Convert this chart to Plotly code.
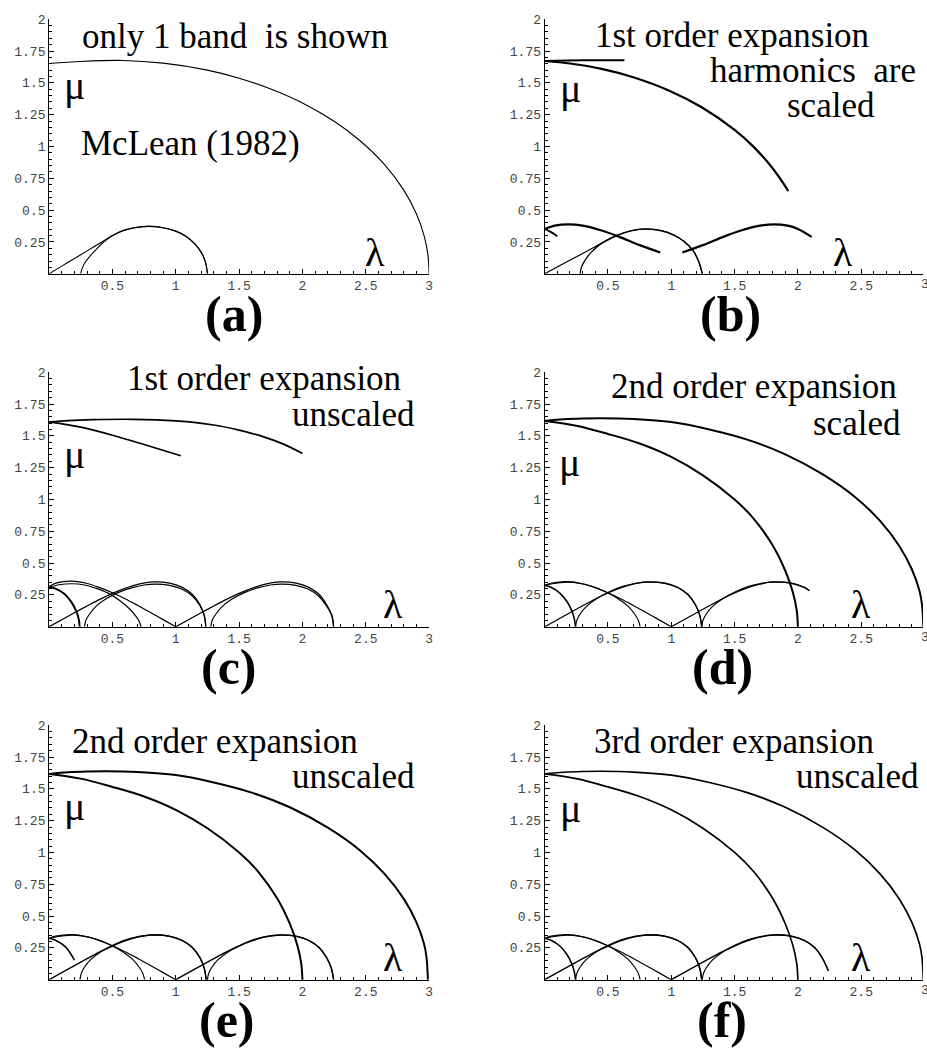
import plotly.graph_objects as go

W, H = 927, 1055

# ---------------- tick labels ----------------
X_TICKS = [0.5, 1, 1.5, 2, 2.5, 3]
X_TICK_TEXT = ["0.5", "1", "1.5", "2", "2.5", "3"]
Y_TICKS = [0.25, 0.5, 0.75, 1, 1.25, 1.5, 1.75, 2]
Y_TICK_TEXT = ["0.25", "0.5", "0.75", "1", "1.25", "1.5", "1.75", "2"]

# ---------------- panel (a) ----------------
A_TOP_X = [0, 0.25, 0.58, 0.9, 1.24, 1.5, 1.76, 2.0, 2.25, 2.45, 2.65, 2.8, 2.9, 2.96, 2.99, 3.0]
A_TOP_Y = [1.652, 1.668, 1.676, 1.655, 1.602, 1.537, 1.448, 1.342, 1.198, 1.049, 0.856, 0.657, 0.47, 0.30, 0.15, 0.0]
A_LINE_X = [0, 0.1, 0.2, 0.3, 0.4, 0.5, 0.58, 0.68, 0.79, 0.9, 1.0, 1.08, 1.15, 1.2, 1.235, 1.25]
A_LINE_Y = [0, 0.06, 0.12, 0.18, 0.24, 0.3, 0.338, 0.362, 0.372, 0.362, 0.335, 0.295, 0.235, 0.17, 0.09, 0]
A_ARC_X = [0.25, 0.26, 0.285, 0.32, 0.38, 0.45, 0.52, 0.6, 0.68, 0.79, 0.9, 1.0, 1.08, 1.15, 1.2, 1.235, 1.25]
A_ARC_Y = [0, 0.04, 0.09, 0.135, 0.2, 0.265, 0.31, 0.345, 0.364, 0.372, 0.362, 0.335, 0.295, 0.235, 0.17, 0.09, 0]

# ---------------- panel (b) ----------------
B_FLAT_X = [0, 0.3, 0.63]
B_FLAT_Y = [1.672, 1.678, 1.678]
B_ARC_X = [0, 0.2, 0.45, 0.7, 0.98, 1.24, 1.5, 1.65, 1.77, 1.85, 1.924]
B_ARC_Y = [1.672, 1.652, 1.61, 1.544, 1.44, 1.308, 1.13, 0.997, 0.866, 0.761, 0.65]
B_LTOP_X = [0, 0.08, 0.19, 0.3, 0.45, 0.585, 0.75, 0.913]
B_LTOP_Y = [0.352, 0.378, 0.388, 0.378, 0.34, 0.292, 0.225, 0.167]
B_LSHORT_X = [0, 0.05, 0.1]
B_LSHORT_Y = [0.352, 0.327, 0.295]
B_MLINE_X = [0, 0.15, 0.3, 0.45, 0.574, 0.68, 0.8, 0.92, 1.02, 1.1, 1.17, 1.215, 1.245]
B_MLINE_Y = [0, 0.08, 0.16, 0.24, 0.302, 0.338, 0.352, 0.34, 0.305, 0.255, 0.185, 0.1, 0]
B_MARC_X = [0.28, 0.29, 0.315, 0.36, 0.43, 0.52, 0.62, 0.72, 0.8, 0.92, 1.02, 1.1, 1.17, 1.215, 1.245]
B_MARC_Y = [0, 0.05, 0.1, 0.16, 0.225, 0.28, 0.32, 0.345, 0.35, 0.338, 0.303, 0.253, 0.183, 0.1, 0]
B_NTOP_X = [1.087, 1.25, 1.415, 1.55, 1.7, 1.81, 1.92, 2.0, 2.108]
B_NTOP_Y = [0.167, 0.225, 0.292, 0.34, 0.378, 0.388, 0.378, 0.352, 0.29]

# ---------------- panel (c) ----------------
C_TOP1_X = [0, 0.15, 0.35, 0.66, 1.0, 1.3, 1.5, 1.7, 1.85, 2.0]
C_TOP1_Y = [1.609, 1.62, 1.627, 1.63, 1.617, 1.585, 1.545, 1.49, 1.435, 1.362]
C_TOP2_X = [0, 0.25, 0.5, 0.75, 1.04]
C_TOP2_Y = [1.609, 1.568, 1.505, 1.432, 1.344]
C_LSHORT_X = [0, 0.05, 0.12, 0.175, 0.215, 0.235, 0.241]
C_LSHORT_Y = [0.315, 0.3, 0.26, 0.195, 0.12, 0.055, 0]
C_LLINE_X = [0, 0.06, 0.18, 0.3, 0.4, 0.5, 0.6, 0.7, 0.8, 0.9, 1.0]
C_LLINE_Y = [0.315, 0.345, 0.358, 0.34, 0.307, 0.267, 0.22, 0.167, 0.112, 0.056, 0]
C_LARC_X = [0, 0.08, 0.18, 0.28, 0.38, 0.47, 0.56, 0.63, 0.68, 0.71, 0.726]
C_LARC_Y = [0.31, 0.33, 0.338, 0.328, 0.3, 0.262, 0.205, 0.145, 0.09, 0.045, 0]
C_MLINE_X = [0, 0.1, 0.2, 0.3, 0.4, 0.5, 0.6, 0.7, 0.82, 0.95, 1.05, 1.13, 1.19, 1.225, 1.237]
C_MLINE_Y = [0, 0.055, 0.11, 0.163, 0.215, 0.262, 0.302, 0.333, 0.352, 0.343, 0.31, 0.255, 0.175, 0.09, 0]
C_MARC_X = [0.28, 0.29, 0.32, 0.37, 0.45, 0.55, 0.65, 0.75, 0.84, 0.95, 1.05, 1.13, 1.19, 1.225, 1.237]
C_MARC_Y = [0, 0.05, 0.1, 0.16, 0.22, 0.27, 0.305, 0.328, 0.335, 0.325, 0.295, 0.242, 0.167, 0.085, 0]
C_NLINE_X = [1.0, 1.1, 1.2, 1.3, 1.4, 1.5, 1.6, 1.7, 1.82, 1.95, 2.05, 2.13, 2.19, 2.232, 2.246]
C_NLINE_Y = [0, 0.055, 0.11, 0.163, 0.215, 0.262, 0.302, 0.333, 0.352, 0.343, 0.31, 0.255, 0.175, 0.09, 0]
C_NARC_X = [1.277, 1.287, 1.317, 1.367, 1.447, 1.547, 1.647, 1.747, 1.837, 1.947, 2.047, 2.127, 2.187, 2.232, 2.246]
C_NARC_Y = [0, 0.05, 0.1, 0.16, 0.22, 0.27, 0.305, 0.328, 0.335, 0.325, 0.295, 0.242, 0.167, 0.085, 0]

# ---------------- panels (d), (e), (f) ----------------
D_TOP1_X = [0, 0.15, 0.3, 0.45, 0.7, 1.0, 1.3, 1.6, 1.9, 2.2, 2.45, 2.65, 2.8, 2.9, 2.96, 2.98, 2.99]
D_TOP1_Y = [1.617, 1.63, 1.636, 1.638, 1.632, 1.608, 1.55, 1.47, 1.355, 1.195, 1.02, 0.83, 0.635, 0.45, 0.28, 0.17, 0]
D_TOP2_X = [0, 0.25, 0.5, 0.75, 1.0, 1.25, 1.5, 1.65, 1.8, 1.9, 1.96, 1.99, 2.0]
D_TOP2_Y = [1.617, 1.58, 1.515, 1.44, 1.335, 1.19, 1.0, 0.85, 0.64, 0.44, 0.27, 0.13, 0]
D_LSHORT_X = [0, 0.05, 0.12, 0.175, 0.215, 0.235, 0.244]
D_LSHORT_Y = [0.326, 0.31, 0.265, 0.2, 0.125, 0.06, 0]
D_LLINE_X = [0, 0.05, 0.18, 0.3, 0.4, 0.5, 0.6, 0.7, 0.8, 0.9, 1.0]
D_LLINE_Y = [0.326, 0.342, 0.354, 0.338, 0.307, 0.267, 0.22, 0.167, 0.112, 0.056, 0]
D_LARC_X = [0, 0.06, 0.18, 0.28, 0.38, 0.48, 0.58, 0.66, 0.71, 0.74, 0.754]
D_LARC_Y = [0.322, 0.338, 0.35, 0.34, 0.315, 0.275, 0.22, 0.16, 0.1, 0.05, 0]
D_MLINE_X = [0, 0.1, 0.2, 0.3, 0.4, 0.5, 0.6, 0.7, 0.8, 0.95, 1.05, 1.13, 1.19, 1.225, 1.24]
D_MLINE_Y = [0, 0.055, 0.11, 0.165, 0.218, 0.265, 0.305, 0.335, 0.352, 0.343, 0.31, 0.255, 0.175, 0.09, 0]
D_MARC_X = [0.244, 0.254, 0.28, 0.33, 0.41, 0.51, 0.61, 0.71, 0.8, 0.95, 1.05, 1.13, 1.19, 1.225, 1.24]
D_MARC_Y = [0, 0.05, 0.1, 0.16, 0.22, 0.275, 0.315, 0.34, 0.35, 0.341, 0.308, 0.253, 0.173, 0.088, 0]
D_NLINE_X = [1.0, 1.1, 1.2, 1.3, 1.4, 1.5, 1.6, 1.7, 1.8, 1.95, 2.05, 2.09]
D_NLINE_Y = [0, 0.055, 0.11, 0.165, 0.218, 0.265, 0.305, 0.335, 0.352, 0.343, 0.31, 0.285]
D_NARC_X = [1.24, 1.25, 1.276, 1.326, 1.406, 1.506, 1.606, 1.706, 1.8, 1.95, 2.05, 2.09]
D_NARC_Y = [0, 0.05, 0.1, 0.16, 0.22, 0.275, 0.315, 0.34, 0.35, 0.341, 0.308, 0.283]

E_LSHORT_X = [0, 0.05, 0.13, 0.2]
E_LSHORT_Y = [0.326, 0.31, 0.258, 0.155]
E_NLINE_X = [1.0, 1.1, 1.2, 1.3, 1.4, 1.5, 1.6, 1.7, 1.82, 1.95, 2.05, 2.13, 2.19, 2.228, 2.246]
E_NLINE_Y = [0, 0.055, 0.11, 0.165, 0.218, 0.265, 0.305, 0.335, 0.352, 0.343, 0.31, 0.255, 0.175, 0.09, 0]
E_NARC_X = [1.25, 1.26, 1.286, 1.336, 1.416, 1.516, 1.616, 1.716, 1.82, 1.95, 2.05, 2.13, 2.19, 2.228, 2.246]
E_NARC_Y = [0, 0.05, 0.1, 0.16, 0.22, 0.275, 0.315, 0.34, 0.35, 0.341, 0.308, 0.253, 0.173, 0.088, 0]

F_NLINE_X = [1.0, 1.1, 1.2, 1.3, 1.4, 1.5, 1.6, 1.7, 1.8, 1.95, 2.05, 2.13, 2.19, 2.24]
F_NLINE_Y = [0, 0.055, 0.11, 0.165, 0.218, 0.265, 0.305, 0.335, 0.352, 0.343, 0.31, 0.255, 0.175, 0.07]
F_NARC_X = [1.244, 1.254, 1.28, 1.33, 1.41, 1.51, 1.61, 1.71, 1.8, 1.95, 2.05, 2.13, 2.19, 2.24]
F_NARC_Y = [0, 0.05, 0.1, 0.16, 0.22, 0.275, 0.315, 0.34, 0.35, 0.341, 0.308, 0.253, 0.173, 0.07]

# curves per panel: (x, y, line width)
PANEL_CURVES = {
    1: [(A_TOP_X, A_TOP_Y, 1.1), (A_LINE_X, A_LINE_Y, 1.1), (A_ARC_X, A_ARC_Y, 1.1)],
    2: [(B_FLAT_X, B_FLAT_Y, 2.0), (B_ARC_X, B_ARC_Y, 2.2), (B_LTOP_X, B_LTOP_Y, 2.2),
        (B_LSHORT_X, B_LSHORT_Y, 1.8), (B_MLINE_X, B_MLINE_Y, 1.2), (B_MARC_X, B_MARC_Y, 1.3),
        (B_NTOP_X, B_NTOP_Y, 2.2)],
    3: [(C_TOP1_X, C_TOP1_Y, 1.7), (C_TOP2_X, C_TOP2_Y, 1.7), (C_LSHORT_X, C_LSHORT_Y, 2.0),
        (C_LLINE_X, C_LLINE_Y, 1.2), (C_LARC_X, C_LARC_Y, 1.2), (C_MLINE_X, C_MLINE_Y, 1.3),
        (C_MARC_X, C_MARC_Y, 1.2), (C_NLINE_X, C_NLINE_Y, 1.3), (C_NARC_X, C_NARC_Y, 1.2)],
    4: [(D_TOP1_X, D_TOP1_Y, 2.0), (D_TOP2_X, D_TOP2_Y, 2.0), (D_LSHORT_X, D_LSHORT_Y, 1.6),
        (D_LLINE_X, D_LLINE_Y, 1.2), (D_LARC_X, D_LARC_Y, 1.2), (D_MLINE_X, D_MLINE_Y, 1.3),
        (D_MARC_X, D_MARC_Y, 1.2), (D_NLINE_X, D_NLINE_Y, 1.3), (D_NARC_X, D_NARC_Y, 1.2)],
    5: [(D_TOP1_X, D_TOP1_Y, 2.0), (D_TOP2_X, D_TOP2_Y, 2.0), (E_LSHORT_X, E_LSHORT_Y, 1.5),
        (D_LLINE_X, D_LLINE_Y, 1.2), (D_LARC_X, D_LARC_Y, 1.2), (D_MLINE_X, D_MLINE_Y, 1.4),
        (D_MARC_X, D_MARC_Y, 1.2), (E_NLINE_X, E_NLINE_Y, 1.4), (E_NARC_X, E_NARC_Y, 1.2)],
    6: [(D_TOP1_X, D_TOP1_Y, 1.7), (D_TOP2_X, D_TOP2_Y, 1.7), (D_LSHORT_X, D_LSHORT_Y, 1.6),
        (D_LLINE_X, D_LLINE_Y, 1.2), (D_LARC_X, D_LARC_Y, 1.2), (D_MLINE_X, D_MLINE_Y, 1.4),
        (D_MARC_X, D_MARC_Y, 1.2), (F_NLINE_X, F_NLINE_Y, 1.4), (F_NARC_X, F_NARC_Y, 1.2)],
}

# text labels (pixel positions of the text centres)
PANEL_TEXTS = [
    ("only 1 band  is shown", 236, 31), ("McLean (1982)", 191, 138),
    ("1st order expansion", 735, 30), ("harmonics  are", 817, 65), ("scaled", 835, 100),
    ("1st order expansion", 265, 375), ("unscaled", 355, 411),
    ("2nd order expansion", 757, 383), ("scaled", 861, 420),
    ("2nd order expansion", 216, 740), ("unscaled", 355, 775),
    ("3rd order expansion", 737, 740), ("unscaled", 861, 775),
]
MU_POS = [(75, 80), (573, 83), (75, 451), (572, 459), (75, 805), (573, 807)]
LAMBDA_POS = [(377, 248), (847, 248), (395, 602), (865, 602), (395, 957), (865, 957)]
PANEL_LABELS = ["(a)", "(b)", "(c)", "(d)", "(e)", "(f)"]
LABEL_POS = [(235, 310), (734, 310), (230, 665), (726, 665), (228, 1020), (725, 1020)]

# layout geometry (pixels)
COL_X = [(49.3, 431.0, 3.0), (547.0, 927.0, 2.9874)]   # left px, right px, x max shown
ROW_Y = [(13.3, 269.3), (368.3, 624.3), (723.3, 979.3)]  # top px, bottom px

SERIF = "Liberation Serif, Times New Roman, serif"
MONO = "Liberation Mono, Courier New, monospace"

fig = go.Figure()
layout = dict(width=W, height=H, autosize=False,
              margin=dict(l=0, r=0, t=0, b=0),
              paper_bgcolor="white", plot_bgcolor="white",
              showlegend=False, annotations=[])

for i in range(1, 7):
    r = (i - 1) // 2
    c = (i - 1) % 2
    xl, xr, xmax = COL_X[c]
    yt, yb = ROW_Y[r]
    suffix = "" if i == 1 else str(i)
    tick_font = dict(family=MONO, size=13, color="#444")
    layout["xaxis" + suffix] = dict(
        domain=[xl / W, xr / W], range=[0, xmax], anchor="y" + suffix,
        showline=True, linecolor="black", linewidth=1, mirror=False,
        showgrid=False, zeroline=False,
        tickmode="array", tickvals=X_TICKS, ticktext=X_TICK_TEXT,
        ticks="inside", ticklen=5, tickwidth=1, tickcolor="black",
        tickfont=tick_font,
        minor=dict(ticks="inside", ticklen=3, tickwidth=1, tickcolor="black",
                   tickmode="linear", tick0=0, dtick=0.1, showgrid=False),
        fixedrange=True,
    )
    layout["yaxis" + suffix] = dict(
        domain=[1 - yb / H, 1 - yt / H], range=[0, 2], anchor="x" + suffix,
        showline=True, linecolor="black", linewidth=1, mirror=False,
        showgrid=False, zeroline=False,
        tickmode="array", tickvals=Y_TICKS, ticktext=Y_TICK_TEXT,
        ticks="inside", ticklen=5, tickwidth=1, tickcolor="black",
        tickfont=tick_font,
        minor=dict(ticks="inside", ticklen=3, tickwidth=1, tickcolor="black",
                   tickmode="linear", tick0=0, dtick=0.05, showgrid=False),
        fixedrange=True,
    )
    for (xs, ys, w) in PANEL_CURVES[i]:
        fig.add_trace(go.Scatter(
            x=xs, y=ys, mode="lines",
            line=dict(color="black", width=w, shape="spline", smoothing=0.9),
            xaxis="x" + suffix, yaxis="y" + suffix,
            hoverinfo="skip", showlegend=False))


def ann(text, px, py, size, family=SERIF, bold=False, color="black"):
    t = "<b>" + text + "</b>" if bold else text
    layout["annotations"].append(dict(
        text=t, x=px / W, y=1 - py / H, xref="paper", yref="paper",
        xanchor="center", yanchor="middle", showarrow=False,
        font=dict(family=family, size=size, color=color)))


for text, px, py in PANEL_TEXTS:
    ann(text, px, py, 35)
for (px, py) in MU_POS:
    ann("μ", px, py, 40)
for (px, py) in LAMBDA_POS:
    ann("λ", px, py, 40)
for lab, (px, py) in zip(PANEL_LABELS, LABEL_POS):
    ann(lab, px, py, 50, bold=True)
# tick label "3" of the right column, cut by the page edge
for (yt, yb) in ROW_Y:
    ann("3", 929, yb + 11, 13, family=MONO, color="#444")

fig.update_layout(**layout)
fig.write_html(
    "out.html",
    config={"displayModeBar": False, "staticPlot": True},
    post_script="document.body.style.margin='0';document.body.style.overflow='hidden';",
)
